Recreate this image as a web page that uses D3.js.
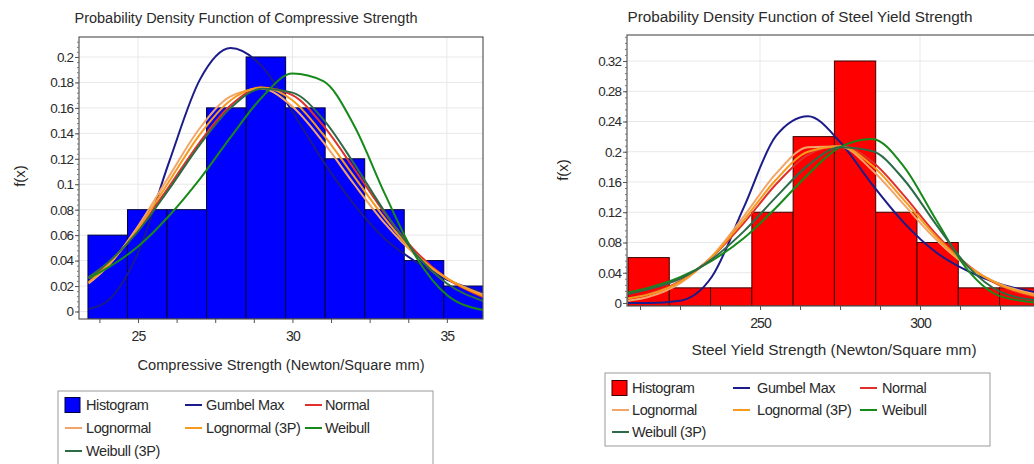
<!DOCTYPE html>
<html><head><meta charset="utf-8">
<script src="https://cdn.jsdelivr.net/npm/d3@7"></script>
<style>
body{margin:0;background:#fff;}
svg{display:block;font-family:"Liberation Sans",Arial,sans-serif;}
</style></head><body>
<svg id="c" width="1034" height="464"></svg>
<script>
// ---------- DATA: Compressive Strength (left) ----------
const leftBinEdges = [23.38, 24.66, 25.94, 27.22, 28.5, 29.78, 31.06, 32.34, 33.62, 34.9, 36.18];
const leftFreq     = [0.06, 0.08, 0.08, 0.16, 0.2, 0.16, 0.12, 0.08, 0.04, 0.02];
const leftX        = [23.4, 24, 25, 26, 27, 28, 29, 30, 31, 32, 33, 34, 35, 36.2];
const leftGumbel   = [0.002, 0.008, 0.046, 0.117, 0.182, 0.207, 0.193, 0.157, 0.118, 0.084, 0.057, 0.039, 0.025, 0.015];
const leftNormal   = [0.026, 0.037, 0.064, 0.098, 0.133, 0.162, 0.176, 0.170, 0.146, 0.112, 0.077, 0.047, 0.026, 0.011];
const leftLognormal   = [0.022, 0.035, 0.067, 0.106, 0.144, 0.169, 0.175, 0.161, 0.133, 0.100, 0.069, 0.044, 0.026, 0.013];
const leftLognormal3P = [0.023, 0.036, 0.065, 0.102, 0.139, 0.166, 0.176, 0.166, 0.139, 0.106, 0.073, 0.045, 0.026, 0.012];
const leftWeibull     = [0.026, 0.034, 0.051, 0.075, 0.104, 0.137, 0.168, 0.187, 0.181, 0.146, 0.092, 0.043, 0.013, 0.001];
const leftWeibull3P   = [0.027, 0.038, 0.063, 0.096, 0.131, 0.160, 0.175, 0.172, 0.151, 0.116, 0.078, 0.045, 0.022, 0.008];
const leftYTicks   = [0, 0.02, 0.04, 0.06, 0.08, 0.1, 0.12, 0.14, 0.16, 0.18, 0.2];
const leftXLabels  = [25, 30, 35];

// ---------- DATA: Steel Yield Strength (right) ----------
const rightBinEdges = [208.75, 221.65, 234.55, 247.45, 260.35, 273.25, 286.15, 299.05, 311.95, 324.85, 337.75];
const rightFreq     = [0.06, 0.02, 0.02, 0.12, 0.22, 0.32, 0.12, 0.08, 0.02, 0.02];
const rightX        = [208.75, 215, 225, 235, 245, 255, 265, 275, 285, 295, 305, 315, 325, 337.5];
const rightGumbel   = [0, 0, 0.003, 0.035, 0.127, 0.221, 0.247, 0.213, 0.157, 0.106, 0.067, 0.042, 0.025, 0.013];
const rightNormal   = [0.006, 0.012, 0.029, 0.061, 0.106, 0.157, 0.196, 0.208, 0.187, 0.142, 0.091, 0.050, 0.023, 0.007];
const rightLognormal   = [0.003, 0.008, 0.026, 0.062, 0.115, 0.171, 0.206, 0.207, 0.176, 0.130, 0.084, 0.048, 0.025, 0.010];
const rightLognormal3P = [0.006, 0.011, 0.028, 0.061, 0.110, 0.163, 0.200, 0.207, 0.182, 0.136, 0.088, 0.049, 0.024, 0.008];
const rightWeibull     = [0.014, 0.020, 0.034, 0.056, 0.086, 0.126, 0.170, 0.206, 0.217, 0.180, 0.110, 0.043, 0.009, 0.000];
const rightWeibull3P   = [0.012, 0.018, 0.032, 0.058, 0.095, 0.140, 0.182, 0.206, 0.201, 0.163, 0.104, 0.048, 0.015, 0.003];
const rightYTicks   = [0, 0.04, 0.08, 0.12, 0.16, 0.2, 0.24, 0.28, 0.32];
const rightXLabels  = [250, 300];

const seriesNames  = ["Gumbel Max", "Normal", "Lognormal", "Lognormal (3P)", "Weibull", "Weibull (3P)"];
const seriesColors = ["#1b1b8a", "#e0302a", "#f3a468", "#f59a1c", "#17891a", "#2c6b46"];

// ---------- DRAWING ----------
const svg = d3.select("#c");
const txt = "#2a2a2a";
const fmt = v => String(+v.toFixed(3));
const FF = '"Liberation Sans",Arial,sans-serif';

function drawChart(cfg) {
  const g = svg.append("g");
  const x = d3.scaleLinear().domain(cfg.xDomain).range([cfg.px0, cfg.px1]);
  const y = d3.scaleLinear().domain(cfg.yDomain).range([cfg.py1, cfg.py0]);
  const clipId = "clip" + cfg.id;
  svg.append("clipPath").attr("id", clipId).append("rect")
    .attr("x", cfg.px0).attr("y", cfg.py0).attr("width", cfg.px1 - cfg.px0).attr("height", cfg.py1 - cfg.py0);

  // grid
  g.selectAll(".hg").data(cfg.yTicks).enter().append("line")
    .attr("x1", cfg.px0).attr("x2", cfg.px1).attr("y1", d => y(d)).attr("y2", d => y(d))
    .attr("stroke", "#e8e8e8").attr("stroke-width", 1);
  g.selectAll(".vg").data(cfg.xLabels).enter().append("line")
    .attr("x1", d => x(d)).attr("x2", d => x(d)).attr("y1", cfg.py0).attr("y2", cfg.py1)
    .attr("stroke", "#e8e8e8").attr("stroke-width", 1);

  const inner = g.append("g").attr("clip-path", `url(#${clipId})`);
  // bars
  inner.selectAll(".bar").data(cfg.freq).enter().append("rect")
    .attr("x", (d, i) => x(cfg.edges[i]))
    .attr("width", (d, i) => x(cfg.edges[i + 1]) - x(cfg.edges[i]))
    .attr("y", d => y(d))
    .attr("height", d => y(cfg.yDomain[0]) - y(d))
    .attr("fill", cfg.barColor)
    .attr("stroke", cfg.barStroke).attr("stroke-width", 1);

  // curves
  const line = d3.line().x((d, i) => x(cfg.xs[i])).y(d => y(d)).curve(d3.curveMonotoneX);
  cfg.curves.forEach((c, k) => {
    inner.append("path").attr("d", line(c)).attr("fill", "none")
      .attr("stroke", seriesColors[k]).attr("stroke-width", 2);
  });

  // frame
  g.append("rect").attr("x", cfg.px0).attr("y", cfg.py0)
    .attr("width", cfg.px1 - cfg.px0).attr("height", cfg.py1 - cfg.py0)
    .attr("fill", "none").attr("stroke", "#5a5a5a").attr("stroke-width", 1.2);

  // y axis
  const yMinor = d3.range(0, cfg.yDomain[1], cfg.yMinorStep);
  const yMin = g.append("g").attr("transform", `translate(${cfg.px0},0)`)
    .call(d3.axisLeft(y).tickValues(yMinor).tickSize(2).tickFormat(""));
  yMin.select(".domain").remove();
  yMin.selectAll("line").attr("stroke", "#777");
  const yAx = g.append("g").attr("transform", `translate(${cfg.px0},0)`)
    .call(d3.axisLeft(y).tickValues(cfg.yTicks).tickSize(4).tickPadding(2).tickFormat(fmt));
  yAx.select(".domain").remove();
  yAx.selectAll("line").attr("stroke", "#555");
  yAx.selectAll("text").attr("font-size", 13.5).attr("fill", txt).attr("letter-spacing", "-0.9px")
    .attr("font-family", FF);

  // x axis
  const xAx = g.append("g").attr("transform", `translate(0,${cfg.py1})`)
    .call(d3.axisBottom(x).tickValues(cfg.xMinor).tickSize(4).tickPadding(8)
      .tickFormat(d => cfg.xLabels.includes(d) ? d : ""));
  xAx.select(".domain").remove();
  xAx.selectAll("line").attr("stroke", "#555");
  xAx.selectAll("text").attr("font-size", 14).attr("fill", txt).attr("letter-spacing", "-0.9px")
    .attr("font-family", FF);

  // titles
  g.append("text").attr("x", cfg.titleX).attr("y", cfg.titleY).attr("text-anchor", "middle")
    .attr("font-size", 14).attr("fill", txt).attr("textLength", cfg.titleW).attr("lengthAdjust", "spacingAndGlyphs")
    .text(cfg.title);
  g.append("text").attr("x", (cfg.px0 + cfg.px1) / 2).attr("y", cfg.xTitleY).attr("text-anchor", "middle")
    .attr("font-size", 14).attr("fill", txt).attr("textLength", cfg.xTitleW).attr("lengthAdjust", "spacingAndGlyphs")
    .text(cfg.xTitle);
  g.append("text").attr("transform", `translate(${cfg.yTitleX},${cfg.yTitleY}) rotate(-90)`)
    .attr("text-anchor", "middle").attr("font-size", 15).attr("fill", txt).text("f(x)");

  // legend
  const L = cfg.legend;
  g.append("rect").attr("x", L.x).attr("y", L.y).attr("width", L.w).attr("height", L.h)
    .attr("fill", "#fff").attr("stroke", "#9a9a9a").attr("stroke-width", 1);
  const items = [{ name: "Histogram", color: cfg.barColor, rect: true }]
    .concat(seriesNames.map((n, i) => ({ name: n, color: seriesColors[i] })));
  items.forEach((it, i) => {
    const col = i % 3, row = Math.floor(i / 3);
    const sx = L.sw[col], tx = L.tx[col], ry = L.rows[row];
    if (it.rect) {
      g.append("rect").attr("x", sx).attr("y", ry - 7.5).attr("width", 15).attr("height", 15)
        .attr("fill", it.color).attr("stroke", cfg.barStroke).attr("stroke-width", 1);
    } else {
      g.append("line").attr("x1", sx).attr("x2", sx + 17).attr("y1", ry).attr("y2", ry)
        .attr("stroke", it.color).attr("stroke-width", 2);
    }
    g.append("text").attr("x", tx).attr("y", ry + 5).attr("font-size", 14.5).attr("fill", txt)
      .attr("letter-spacing", "-0.4px").text(it.name);
  });
}

drawChart({
  id: "L", px0: 79, px1: 483, py0: 37, py1: 319,
  xDomain: [23.09, 36.17], yDomain: [-0.0059, 0.2157],
  edges: leftBinEdges, freq: leftFreq, barColor: "#0000ff", barStroke: "#00003a",
  xs: leftX, curves: [leftGumbel, leftNormal, leftLognormal, leftLognormal3P, leftWeibull, leftWeibull3P],
  yTicks: leftYTicks, yMinorStep: 0.004,
  xLabels: leftXLabels, xMinor: d3.range(23.75, 36.2, 1.25).map(v => +v.toFixed(2)),
  title: "Probability Density Function of Compressive Strength", titleX: 246, titleY: 23, titleW: 343,
  xTitle: "Compressive  Strength (Newton/Square mm)", xTitleY: 370, xTitleW: 287,
  yTitleX: 25, yTitleY: 176,
  legend: { x: 58, y: 391, w: 375, h: 80, sw: [65, 185, 305], tx: [86, 206, 325], rows: [405, 428, 451] }
});

drawChart({
  id: "R", px0: 627, px1: 1041, py0: 35, py1: 306,
  xDomain: [208.44, 337.8], yDomain: [-0.004, 0.3544],
  edges: rightBinEdges, freq: rightFreq, barColor: "#ff0000", barStroke: "#3a0000",
  xs: rightX, curves: [rightGumbel, rightNormal, rightLognormal, rightLognormal3P, rightWeibull, rightWeibull3P],
  yTicks: rightYTicks, yMinorStep: 0.008,
  xLabels: rightXLabels, xMinor: d3.range(212.5, 338, 12.5).map(v => +v.toFixed(2)),
  title: "Probability Density Function of Steel Yield Strength", titleX: 800, titleY: 22, titleW: 345,
  xTitle: "Steel Yield  Strength (Newton/Square mm)", xTitleY: 355, xTitleW: 285,
  yTitleX: 568, yTitleY: 170,
  legend: { x: 605, y: 373, w: 385, h: 73, sw: [612, 733, 860], tx: [632, 757, 882], rows: [388, 410, 432] }
});
</script>
</body></html>
